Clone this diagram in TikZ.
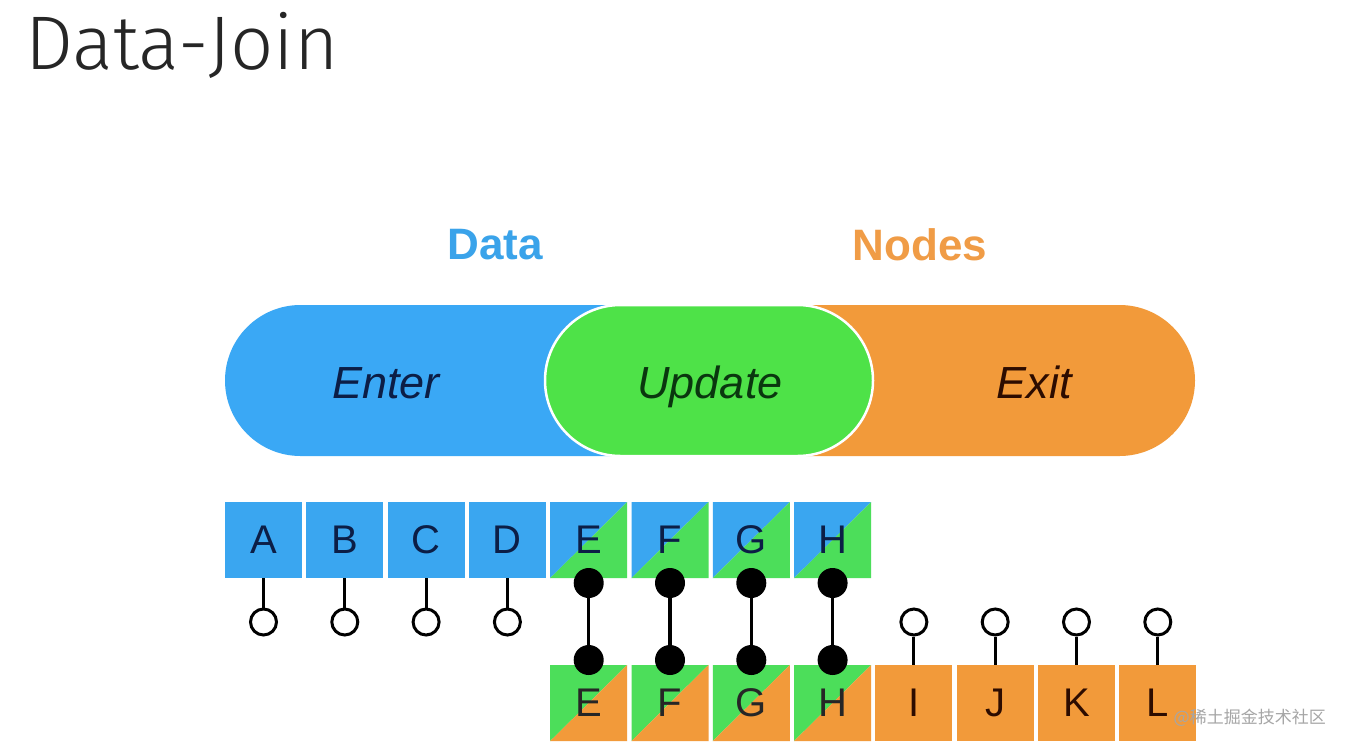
\documentclass[tikz,border=0pt]{standalone}
\usepackage{fontspec}
\setmainfont{Liberation Sans}
\newfontfamily\titlefont{Fira Sans Light}
\newfontfamily\cjkfont{Noto Sans CJK SC}
\usetikzlibrary{shapes.misc}
\definecolor{pillblue}{RGB}{58,168,245}
\definecolor{pillgreen}{RGB}{78,226,72}
\definecolor{pillorange}{RGB}{242,154,58}
\definecolor{tileblue}{RGB}{58,166,240}
\definecolor{tilegreen}{RGB}{76,222,90}
\definecolor{tileorange}{RGB}{242,154,58}
\definecolor{navytxt}{RGB}{12,30,70}
\definecolor{greentxt}{RGB}{10,55,15}
\definecolor{browntxt}{RGB}{45,12,0}
\definecolor{datablue}{RGB}{58,163,234}
\definecolor{nodesorange}{RGB}{240,156,70}
\tikzset{
  pill/.style={rounded rectangle, minimum height=151pt, inner sep=0pt, outer sep=0pt},
  pilltxt/.style={anchor=base, inner sep=0pt, font=\fontsize{45}{54}\selectfont\itshape},
  tile/.style={minimum width=77pt, minimum height=76pt, inner sep=0pt, outer sep=0pt,
    font=\fontsize{40}{48}\selectfont},
  solidtile/.style={tile, fill=#1},
  splittile/.style 2 args={tile, path picture={
    \fill[#1] (path picture bounding box.north west) -- (path picture bounding box.north east)
      -- (path picture bounding box.south west) -- cycle;
    \fill[#2] (path picture bounding box.north east) -- (path picture bounding box.south east)
      -- (path picture bounding box.south west) -- cycle;}},
  hollow/.style={circle, draw=black, line width=3pt, fill=white, minimum size=26pt, inner sep=0pt},
  solid dot/.style={circle, fill=black, minimum size=30pt, inner sep=0pt},
  stem/.style={line width=3pt, black},
  link/.style={line width=3.5pt, black},
}
\begin{document}
\begin{tikzpicture}[x=1pt, y=-1pt]
\useasboundingbox (0,0) rectangle (1346,750);
\fill[white] (0,0) rectangle (1346,750);

% title
\node[anchor=base west, inner sep=0pt, font=\titlefont\fontsize{76}{88}\selectfont, text=black!85] (title) at (25,69) {Data-Join};

% headings
\node[font=\fontsize{44}{52}\selectfont\bfseries, text=datablue] (data) at (495,245) {Data};
\node[font=\fontsize{44}{52}\selectfont\bfseries, text=nodesorange] (nodes) at (920,245) {Nodes};

% pills
\node[pill, fill=pillblue, rounded rectangle right arc=none, minimum width=398pt] (enterpill) at (424,380.5) {};
\node[pill, fill=pillorange, rounded rectangle left arc=none, minimum width=398pt] (exitpill) at (996,380.5) {};
\node[pill, fill=pillgreen, draw=white, line width=2.5pt, minimum width=328pt] (updatepill) at (709,380.5) {};
\node[pilltxt, text=navytxt] (enter) at (386,398) {Enter};
\node[pilltxt, text=greentxt] (update) at (710,398) {Update};
\node[pilltxt, text=browntxt] (exit) at (1034,398) {Exit};

% top row (data)
\foreach \n/\x in {A/263.5, B/344.8, C/426.1, D/507.4} {
  \node[solidtile=tileblue, text=navytxt] (t\n) at (\x,540) {\n};
  \node[hollow] (c\n) at (\x,622) {};
  \draw[stem] (t\n.south) -- (c\n.north);
}
\foreach \n/\x in {E/588.7, F/670, G/751.3, H/832.6} {
  \node[splittile={tileblue}{tilegreen}, text=navytxt] (t\n) at (\x,540) {\n};
  \node[splittile={tilegreen}{tileorange}, text=black!85] (b\n) at (\x,703) {\n};
  \node[solid dot] (u\n) at (\x,583) {};
  \node[solid dot] (l\n) at (\x,660) {};
  \draw[link] (u\n) -- (l\n);
}
\foreach \n/\x in {I/913.9, J/995.2, K/1076.5, L/1157.8} {
  \node[solidtile=tileorange, text=browntxt] (b\n) at (\x,703) {\n};
  \node[hollow] (c\n) at (\x,622) {};
  \draw[stem] (c\n.south) -- (b\n.north);
}

% watermark
\node[anchor=east, inner sep=0pt, font=\cjkfont\fontsize{17}{20}\selectfont, text=gray!70] (wm) at (1326,718) {@稀土掘金技术社区};
\end{tikzpicture}
\end{document}
